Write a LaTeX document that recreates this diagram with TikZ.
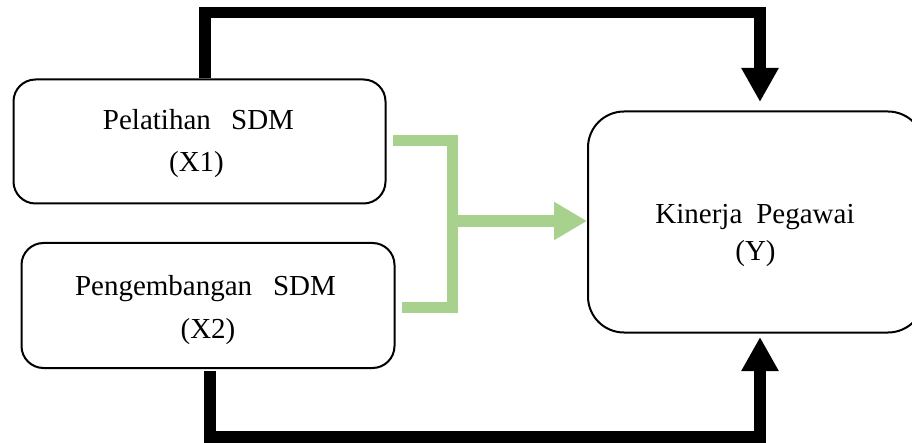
\documentclass[tikz,border=0pt]{standalone}
\usepackage{fontspec}
\setmainfont{Liberation Serif}
\usetikzlibrary{arrows.meta}
\definecolor{grn}{HTML}{A9D18E}
\begin{document}
\begin{tikzpicture}[x=1pt,y=-1pt,
  box/.style={draw, line width=2pt, rounded corners=#1, inner sep=0pt, shape=rectangle},
  lbl/.style={font=\fontsize{29}{35}\selectfont, inner sep=0pt, anchor=base},
  blk/.style={line width=11.5pt, -{Triangle[length=34pt,width=35pt]}},
  grnline/.style={draw=grn, line width=11.5pt},
  grnarrow/.style={draw=grn, fill=grn, line width=11.5pt, -{Triangle[length=33pt,width=36pt]}}]
\useasboundingbox (0,0) rectangle (912,443);
\clip (0,0) rectangle (912,443);
\fill[white] (0,0) rectangle (912,443);

% boxes
\node[box=22, minimum width=372pt, minimum height=124pt] (x1) at (199.5,141.5) {};
\node[box=22, minimum width=373pt, minimum height=125pt] (x2) at (208,305.5) {};
\node[box=36, minimum width=336pt, minimum height=221pt] (y) at (756,222) {};

% labels
\node[lbl] (x1a) at (198.5,130) {Pelatihan\hspace{0.7em}SDM};
\node[lbl] (x1b) at (196.5,172) {(X1)};
\node[lbl] (x2a) at (205.5,295) {Pengembangan\hspace{0.72em}SDM};
\node[lbl] (x2b) at (208,338) {(X2)};
\node[lbl] (ya) at (755,224) {Kinerja\hspace{0.48em}Pegawai};
\node[lbl] (yb) at (755.5,261) {(Y)};

% black connectors
\coordinate (ytop) at (760,102);
\coordinate (ybot) at (760,337);
\coordinate (topx) at (205,12.5);
\coordinate (botx) at (210,437);
\draw[blk] (x1.north -| topx) -- (topx) -- (topx -| ytop) -- (ytop);
\draw[blk] ([yshift=-2pt]x2.south -| botx) -- (botx) -- (botx -| ybot) -- (ybot);

% green connector
\coordinate (g1) at (393,140.5);
\coordinate (g2) at (402,307.5);
\coordinate (gv) at (452.5,221);
\draw[grnline] (g1) -- (g1 -| gv) -- (g2 -| gv) -- (g2);
\draw[grnarrow] (gv) -- (y.west |- gv);
\end{tikzpicture}
\end{document}
